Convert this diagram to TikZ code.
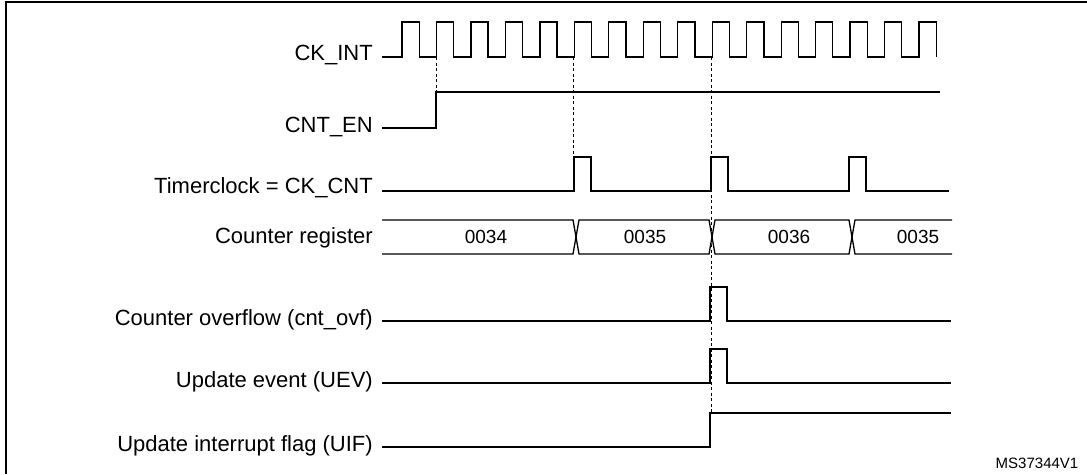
\documentclass[tikz,border=0pt]{standalone}
\usepackage{fontspec}
\setmainfont{Liberation Sans}
\usetikzlibrary{positioning}
\tikzset{
  sig/.style={line width=1.3pt},
  guide/.style={line width=0.8pt, dash pattern=on 3pt off 2.5pt},
  lbl/.style={anchor=east, inner sep=0pt, font=\fontsize{22}{24}\selectfont},
  val/.style={inner sep=0pt, font=\fontsize{19}{21}\selectfont}
}
\begin{document}
\begin{tikzpicture}[x=1pt,y=-1pt]
				\useasboundingbox (0,0) rectangle (1087,474);
				\draw[line width=1.5pt] (6,474) -- (6,2) -- (1087,2);
				
				\node[lbl] (ckint) at (373,55) {CK\_INT};
				\node[lbl] (cnten) at (373,127) {CNT\_EN};
				\node[lbl] (tclk) at (373,188) {Timerclock = CK\_CNT};
				\node[lbl] (creg) at (373,238) {Counter register};
				\node[lbl] (ovf) at (373,320) {Counter overflow (cnt\_ovf)};
				\node[lbl] (uev) at (373,382) {Update event (UEV)};
				\node[lbl] (uif) at (373,446) {Update interrupt flag (UIF)};
				\node[inner sep=0pt, font=\fontsize{15}{17}\selectfont] (ref) at (1037,463) {MS37344V1};
				
				% clock
				\draw[sig] (382,57) \foreach \k in {0,...,15}{ -- ({402+34.47*\k},57) -- ({402+34.47*\k},22) -- ({419.2+34.47*\k},22) -- ({419.2+34.47*\k},57)};
				\draw[sig] (382,128) -- (436,128) -- (436,92) -- (940,92);
				\draw[sig] (382,191) -- (574,191) -- (574,157) -- (591,157) -- (591,191) -- (711,191) -- (711,157) -- (728,157) -- (728,191) -- (849,191) -- (849,157) -- (866,157) -- (866,191) -- (949,191);
				
				% counter register
				\draw[sig] (382,220) -- (573,220) -- (579,254) -- (709,254) -- (715,220) -- (849,220) -- (855,254) -- (952,254);
				\draw[sig] (382,254) -- (573,254) -- (579,220) -- (709,220) -- (715,254) -- (849,254) -- (855,220) -- (952,220);
				\node[val] (v1) at (486,237) {0034};
				\node[val] (v2) at (645,237) {0035};
				\node[val] (v3) at (789,237) {0036};
				\node[val] (v4) at (918,237) {0035};
				
				\draw[sig] (382,321) -- (710,321) -- (710,287) -- (727,287) -- (727,321) -- (951,321);
				\draw[sig] (382,383) -- (710,383) -- (710,349) -- (727,349) -- (727,383) -- (951,383);
				\draw[sig] (382,447) -- (710,447) -- (710,413) -- (951,413);
				
				\draw[guide] (436,57) -- (436,92);
				\draw[guide] (573,57) -- (573,157);
				\draw[guide] (711,57) -- (711,413);
			\end{tikzpicture}
\end{document}
